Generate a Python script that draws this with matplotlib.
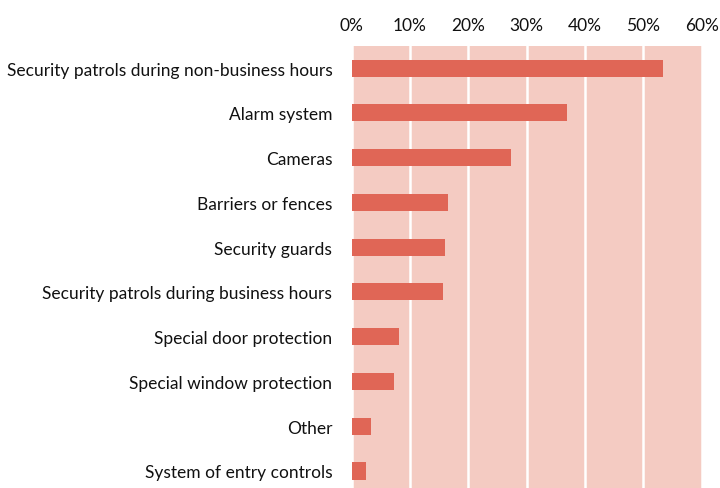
import matplotlib.pyplot as plt
from matplotlib.ticker import PercentFormatter

categories = [
    "Security patrols during non-business hours",
    "Alarm system",
    "Cameras",
    "Barriers or fences",
    "Security guards",
    "Security patrols during business hours",
    "Special door protection",
    "Special window protection",
    "Other",
    "System of entry controls",
]
values = [53.4, 36.9, 27.3, 16.5, 16.0, 15.7, 8.1, 7.3, 3.3, 2.4]
ticks = [0, 10, 20, 30, 40, 50, 60]

plt.rcParams['font.family'] = ['Lato', 'DejaVu Sans']

fig = plt.figure(figsize=(7.2, 4.89), dpi=100)
ax = fig.add_axes([0.4885, -0.011, 0.4861, 0.9155])
ax.set_facecolor('#f4cbc2')

y = list(range(len(categories)))
ax.barh(y, values, height=0.38, color='#e06656', zorder=3)

ax.set_xlim(0, 60)
ax.set_ylim(len(categories) - 0.5, -0.5)
ax.set_xticks(ticks)
ax.xaxis.set_major_formatter(PercentFormatter(decimals=0))
ax.xaxis.tick_top()
ax.set_yticks(y)
ax.set_yticklabels(categories)
ax.tick_params(axis='both', length=0, labelsize=12.5, colors='#111111')
ax.tick_params(axis='x', pad=9)
ax.tick_params(axis='y', pad=14)
ax.grid(axis='x', color='white', linewidth=1.8, zorder=1)
for s in ax.spines.values():
    s.set_visible(False)

fig.savefig('out.png', dpi=100)
